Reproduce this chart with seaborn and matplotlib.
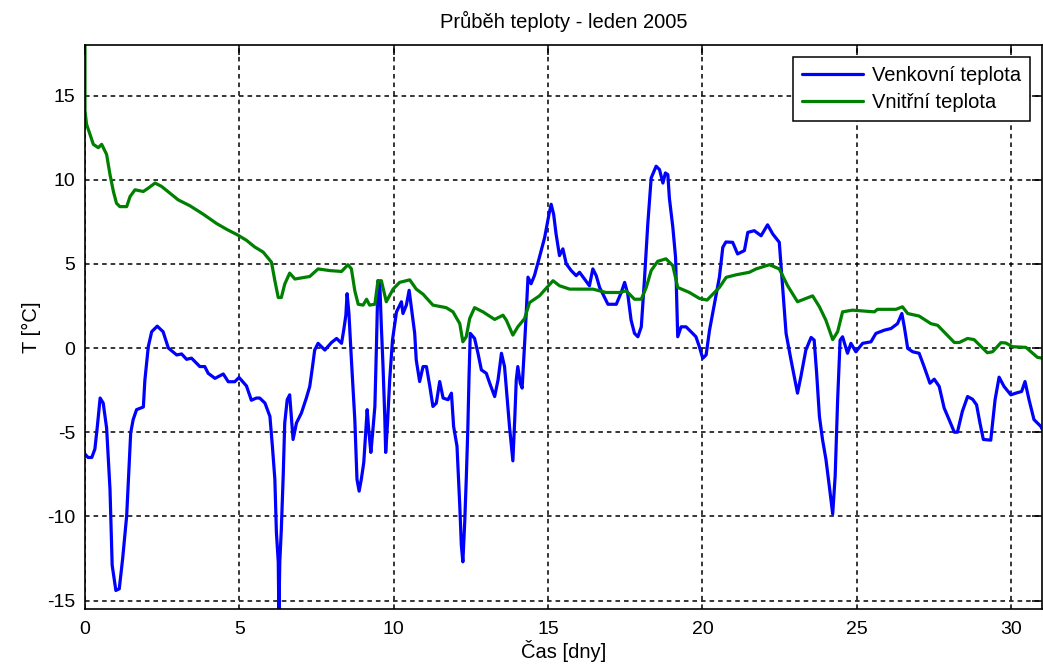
import matplotlib
matplotlib.use("Agg")
import matplotlib.pyplot as plt
import seaborn as sns
import pandas as pd

# Outdoor temperature, January 2005 (day, °C)
outdoor_day = [
    0.00, 0.10, 0.22, 0.32, 0.40, 0.49, 0.59, 0.70, 0.81, 0.88, 1.00, 1.11, 1.22, 1.35, 1.43,
    1.48, 1.56, 1.67, 1.89, 1.94, 2.05, 2.16, 2.34, 2.53, 2.70, 2.97, 3.13, 3.29, 3.45, 3.72,
    3.88, 3.99, 4.21, 4.48, 4.64, 4.85, 4.99, 5.23, 5.39, 5.55, 5.66, 5.83, 5.99, 6.07, 6.15,
    6.20, 6.26, 6.28, 6.31, 6.36, 6.42, 6.47, 6.55, 6.63, 6.69, 6.74, 6.85, 7.01, 7.17, 7.28,
    7.37, 7.44, 7.55, 7.77, 7.98, 8.15, 8.31, 8.38, 8.45, 8.49, 8.55, 8.63, 8.74, 8.81, 8.88,
    8.95, 9.03, 9.09, 9.14, 9.19, 9.26, 9.31, 9.39, 9.44, 9.49, 9.55, 9.60, 9.65, 9.71, 9.74,
    9.80, 9.87, 9.96, 10.09, 10.25, 10.30, 10.41, 10.50, 10.57, 10.68, 10.73, 10.84, 10.95,
    11.06, 11.17, 11.27, 11.38, 11.49, 11.60, 11.76, 11.87, 11.94, 12.05, 12.14, 12.19, 12.24,
    12.30, 12.35, 12.40, 12.44, 12.48, 12.62, 12.73, 12.84, 13.00, 13.11, 13.27, 13.38, 13.49,
    13.59, 13.67, 13.75, 13.86, 13.92, 13.97, 14.02, 14.10, 14.16, 14.21, 14.27, 14.35, 14.45,
    14.56, 14.72, 14.89, 15.03, 15.10, 15.18, 15.26, 15.37, 15.48, 15.59, 15.75, 15.91, 16.02,
    16.18, 16.34, 16.45, 16.56, 16.67, 16.83, 16.94, 17.21, 17.37, 17.48, 17.58, 17.69, 17.80,
    17.91, 18.02, 18.12, 18.23, 18.34, 18.50, 18.61, 18.72, 18.80, 18.88, 18.93, 19.04, 19.13,
    19.20, 19.31, 19.47, 19.63, 19.79, 19.90, 20.01, 20.12, 20.23, 20.39, 20.55, 20.66, 20.76,
    20.98, 21.14, 21.36, 21.47, 21.68, 21.90, 22.11, 22.28, 22.49, 22.60, 22.71, 22.87, 23.08,
    23.19, 23.35, 23.52, 23.62, 23.70, 23.79, 23.89, 24.00, 24.11, 24.22, 24.30, 24.38, 24.46,
    24.54, 24.70, 24.81, 24.97, 25.19, 25.46, 25.62, 25.89, 26.11, 26.32, 26.46, 26.54, 26.65,
    26.81, 27.02, 27.18, 27.37, 27.51, 27.67, 27.83, 27.99, 28.16, 28.26, 28.42, 28.59, 28.75,
    28.88, 28.99, 29.10, 29.34, 29.40, 29.48, 29.61, 29.77, 29.99, 30.15, 30.34, 30.45, 30.58,
    30.74, 30.96, 31.00,
]
outdoor_temp = [
    -6.3, -6.5, -6.5, -6.0, -4.65, -2.97, -3.27, -4.75, -8.4, -12.9, -14.4, -14.3, -12.5, -9.96, -7.0,
    -5.04, -4.25, -3.66, -3.5, -1.9, 0.08, 0.97, 1.3, 0.97, 0.0, -0.41, -0.35, -0.67, -0.6, -1.1,
    -1.1, -1.5, -1.8, -1.54, -2.0, -2.0, -1.75, -2.25, -3.1, -2.97, -2.97, -3.27, -4.06, -5.83, -7.8,
    -10.95, -12.7, -15.8, -12.7, -10.75, -7.6, -4.45, -3.07, -2.78, -4.25, -5.43, -4.45, -3.86, -2.97, -2.28,
    -1.1, -0.12, 0.28, -0.12, 0.32, 0.57, 0.28, 1.06, 1.95, 3.23, 2.05, -0.71, -4.25, -7.8, -8.5,
    -7.8, -6.8, -5.1, -3.66, -4.84, -6.2, -5.2, -3.47, 0.08, 4.0, 3.8, 1.26, -0.9, -4.06, -6.2,
    -4.45, -1.89, 0.47, 2.15, 2.75, 2.05, 2.55, 3.43, 2.45, 0.87, -0.71, -1.99, -1.1,
    -1.1, -2.28, -3.47, -3.27, -1.99, -2.97, -3.07, -2.68, -4.65, -5.83, -9.37, -11.7, -12.7,
    -10.35, -7.8, -4.84, -1.69, 0.87, 0.57, -0.31, -1.3, -1.5, -2.09, -2.88, -1.89, -0.31,
    -1.1, -2.88, -4.65, -6.7, -4.25, -1.89, -1.1, -2.09, -2.38, -0.71, 1.26, 4.21, 3.82,
    4.31, 5.39, 6.57, 7.95, 8.54, 7.95, 6.77, 5.49, 5.89, 5.0, 4.6, 4.3, 4.5,
    4.1, 3.7, 4.7, 4.3, 3.6, 3.0, 2.6, 2.6, 3.3, 3.9, 3.23, 1.65, 0.87,
    0.67, 1.26, 4.0, 7.36, 10.1, 10.8, 10.6, 9.8, 10.4, 10.3, 8.9, 7.2, 5.39,
    0.67, 1.26, 1.26, 0.97, 0.67, 0.08, -0.61, -0.41, 1.06, 2.64, 4.21, 5.98, 6.3,
    6.28, 5.59, 5.79, 6.87, 6.97, 6.67, 7.32, 6.77, 6.28, 3.6, 0.87, -0.71, -2.68,
    -1.69, -0.12, 0.63, 0.47, -1.5, -4.06, -5.43, -6.6, -8.2, -9.86, -7.6, -3.07, 0.47,
    0.67, -0.31, 0.28, -0.22, 0.28, 0.37, 0.87, 1.06, 1.16, 1.45, 2.05, 1.26, -0.02,
    -0.22, -0.31, -1.1, -2.09, -1.85, -2.28, -3.56, -4.25, -5.0, -5.0, -3.76, -2.88, -3.04,
    -3.37, -4.45, -5.43, -5.47, -4.45, -3.07, -1.73, -2.28, -2.78, -2.68, -2.58, -1.99, -3.07,
    -4.25, -4.65, -4.8,
]

# Indoor temperature, January 2005 (day, °C)
indoor_day = [
    0.00, 0.00, 0.05, 0.27, 0.43, 0.54, 0.70, 0.81, 0.92, 1.02, 1.13, 1.35, 1.46, 1.62, 1.89,
    2.05, 2.27, 2.48, 2.75, 3.02, 3.40, 3.83, 4.26, 4.59, 4.96, 5.23, 5.50, 5.77, 6.04, 6.15,
    6.26, 6.36, 6.47, 6.63, 6.80, 7.28, 7.55, 7.93, 8.31, 8.52, 8.63, 8.74, 8.85, 9.01, 9.12,
    9.22, 9.39, 9.49, 9.60, 9.76, 9.98, 10.19, 10.52, 10.73, 10.95, 11.27, 11.70, 11.92, 12.14,
    12.24, 12.35, 12.46, 12.62, 12.89, 13.27, 13.54, 13.65, 13.86, 14.02, 14.24, 14.40, 14.72,
    15.16, 15.37, 15.70, 16.45, 16.88, 17.31, 17.53, 17.80, 18.02, 18.18, 18.34, 18.55, 18.82,
    19.04, 19.20, 19.58, 19.90, 20.15, 20.55, 20.77, 21.09, 21.52, 21.74, 22.17, 22.49, 22.76,
    23.08, 23.57, 23.79, 24.00, 24.22, 24.38, 24.54, 24.86, 25.57, 25.67, 26.27, 26.48, 26.65,
    27.02, 27.40, 27.62, 28.16, 28.32, 28.59, 28.80, 29.23, 29.40, 29.67, 29.83, 30.04, 30.48,
    30.85, 31.00,
]
indoor_temp = [
    18.5, 14.1, 13.3, 12.1, 11.9, 12.1, 11.5, 10.3, 9.3, 8.6, 8.4, 8.4, 9.0, 9.4, 9.3,
    9.5, 9.8, 9.6, 9.2, 8.8, 8.45, 7.95, 7.4, 7.05, 6.7, 6.4, 6.0, 5.7, 5.1, 4.0,
    3.0, 3.0, 3.8, 4.45, 4.1, 4.25, 4.7, 4.6, 4.55, 4.95, 4.7, 3.4, 2.6, 2.55, 2.9,
    2.55, 2.6, 4.0, 4.0, 2.75, 3.5, 3.9, 4.05, 3.5, 3.2, 2.55, 2.4, 2.15, 1.45,
    0.37, 0.67, 1.75, 2.4, 2.15, 1.7, 1.95, 1.65, 0.77, 1.26, 1.75, 2.7, 3.1,
    4.0, 3.7, 3.5, 3.5, 3.3, 3.3, 3.4, 2.9, 2.9, 3.6, 4.6, 5.15, 5.3,
    4.9, 3.6, 3.3, 2.95, 2.85, 3.6, 4.2, 4.35, 4.5, 4.7, 4.95, 4.7, 3.7,
    2.75, 3.1, 2.45, 1.65, 0.5, 0.97, 2.15, 2.25, 2.15, 2.3, 2.3, 2.45, 2.05,
    1.9, 1.45, 1.35, 0.33, 0.33, 0.57, 0.5, -0.28, -0.22, 0.32, 0.3, 0.08, 0.04,
    -0.55, -0.6,
]

series_names = ["Venkovní teplota", "Vnitřní teplota"]
series_colors = ["#0000ff", "#008000"]
x_ticks = [0, 5, 10, 15, 20, 25, 30]
y_ticks = [-15, -10, -5, 0, 5, 10, 15]

sns.set_style("white")
plt.rcParams["font.family"] = ["Liberation Sans", "DejaVu Sans"]
plt.rcParams["font.size"] = 14
plt.rcParams["axes.unicode_minus"] = False
plt.rcParams["text.color"] = "black"
plt.rcParams["axes.labelcolor"] = "black"
plt.rcParams["xtick.color"] = "black"
plt.rcParams["ytick.color"] = "black"

fig = plt.figure(figsize=(10.43, 6.68), dpi=100)
ax = fig.add_axes([85 / 1043, 59 / 668, 957 / 1043, 564 / 668])

df_out = pd.DataFrame({"den": outdoor_day, "T": outdoor_temp})
df_in = pd.DataFrame({"den": indoor_day, "T": indoor_temp})

sns.lineplot(data=df_out, x="den", y="T", ax=ax, color=series_colors[0],
             linewidth=2.3, estimator=None, sort=False, label=series_names[0])
sns.lineplot(data=df_in, x="den", y="T", ax=ax, color=series_colors[1],
             linewidth=2.3, estimator=None, sort=False, label=series_names[1])

ax.set_xlim(0, 31)
ax.set_ylim(-15.5, 18)
ax.set_xticks(x_ticks)
ax.set_yticks(y_ticks)
ax.grid(True, color="black", linestyle=(0, (3.0, 2.6)), linewidth=1.1)
ax.set_axisbelow(True)

for side in ["top", "right", "bottom", "left"]:
    ax.spines[side].set_visible(True)
    ax.spines[side].set_color("black")
    ax.spines[side].set_linewidth(1.2)

ax.tick_params(axis="both", direction="in", length=7, width=1.1, color="black",
               labelcolor="black", labelsize=14, top=True, right=True, pad=7)
ax.tick_params(axis="x", pad=9)

ax.set_title("Průběh teploty - leden 2005", fontsize=14.5, pad=12, color="black")
ax.set_xlabel("Čas [dny]", fontsize=14.5, labelpad=1, color="black")
ax.set_ylabel("T [°C]", fontsize=14.5, labelpad=4, color="black")

leg = ax.legend(loc="upper right", fontsize=14.5, frameon=True, fancybox=False,
                framealpha=1, edgecolor="black", borderaxespad=0.6,
                handlelength=3.0, handletextpad=0.45, borderpad=0.45, labelspacing=0.4)
leg.get_frame().set_linewidth(1.1)
for text in leg.get_texts():
    text.set_color("black")
for line in leg.get_lines():
    line.set_linewidth(2.3)

fig.savefig("out.png", dpi=100, facecolor="white")
